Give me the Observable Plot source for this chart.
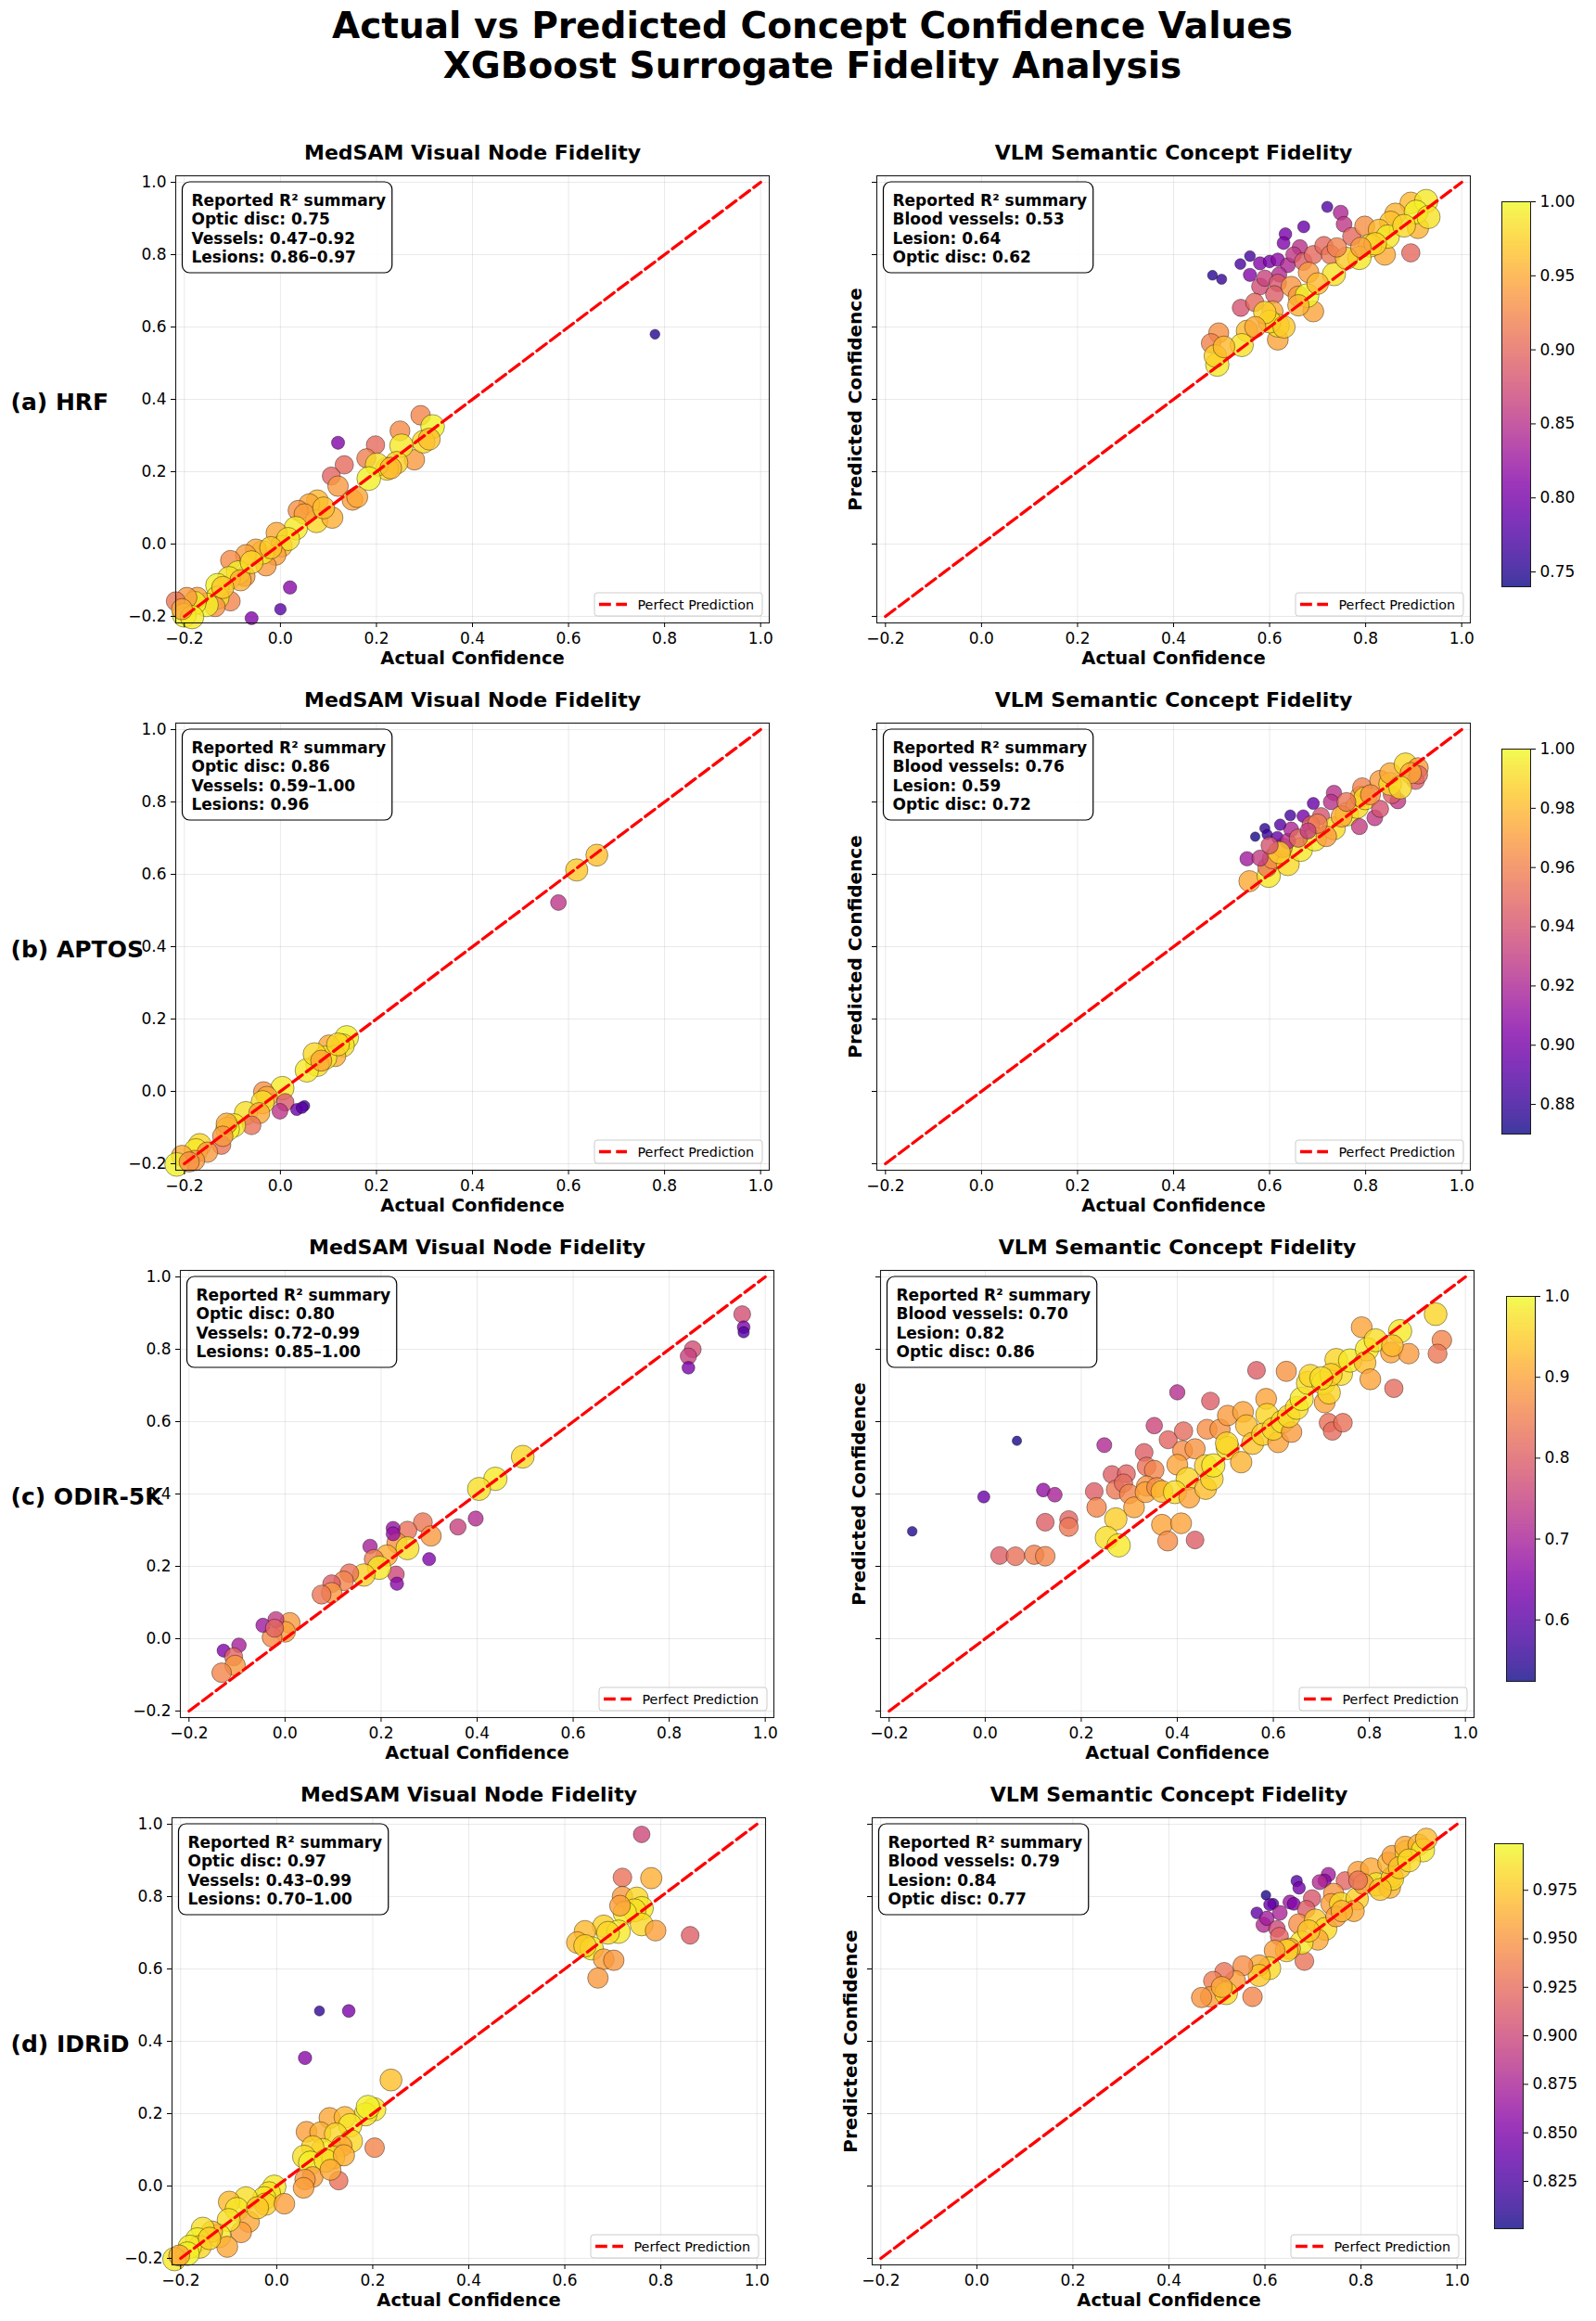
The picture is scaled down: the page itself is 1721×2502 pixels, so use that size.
<!DOCTYPE html>
<html>
<head>
<meta charset="utf-8">
<script src="https://cdn.jsdelivr.net/npm/d3@7"></script>
<script src="https://cdn.jsdelivr.net/npm/@observablehq/plot@0.6"></script>
<style>
  body { margin: 0; background: #fff; }
  #fig { position: relative; width: 1721px; height: 2502px; background: #fff; overflow: hidden; font-family: "DejaVu Sans", sans-serif; }
  #suptitle { position: absolute; left: 0; top: 6px; width: 1752px; text-align: center; font-weight: bold; font-size: 39px; line-height: 43px; color: #000; }
</style>
</head>
<body>
<div id="fig">
  <div id="suptitle">Actual vs Predicted Concept Confidence Values<br>XGBoost Surrogate Fidelity Analysis</div>
</div>
<script>
// ---------------- DATA: [actual, predicted, colour value] ----------------
const rowLabels = ["(a) HRF", "(b) APTOS", "(c) ODIR-5K", "(d) IDRiD"];
const leftTitle = "MedSAM Visual Node Fidelity";
const rightTitle = "VLM Semantic Concept Fidelity";
const axisTicks = [-0.2, 0.0, 0.2, 0.4, 0.6, 0.8, 1.0];
const diagonal = [-0.2, 1.0];
const leftColorDomain = [0.5, 1.0];

const r2Left = [
  ["Reported R\u00b2 summary", "Optic disc: 0.75", "Vessels: 0.47\u20130.92", "Lesions: 0.86\u20130.97"],
  ["Reported R\u00b2 summary", "Optic disc: 0.86", "Vessels: 0.59\u20131.00", "Lesions: 0.96"],
  ["Reported R\u00b2 summary", "Optic disc: 0.80", "Vessels: 0.72\u20130.99", "Lesions: 0.85\u20131.00"],
  ["Reported R\u00b2 summary", "Optic disc: 0.97", "Vessels: 0.43\u20130.99", "Lesions: 0.70\u20131.00"]
];
const r2Right = [
  ["Reported R\u00b2 summary", "Blood vessels: 0.53", "Lesion: 0.64", "Optic disc: 0.62"],
  ["Reported R\u00b2 summary", "Blood vessels: 0.76", "Lesion: 0.59", "Optic disc: 0.72"],
  ["Reported R\u00b2 summary", "Blood vessels: 0.70", "Lesion: 0.82", "Optic disc: 0.86"],
  ["Reported R\u00b2 summary", "Blood vessels: 0.79", "Lesion: 0.84", "Optic disc: 0.77"]
];

const cbDomains = [[0.740, 1.0], [0.870, 1.0], [0.524, 1.0], [0.8006, 0.999]];
const cbTicks = [
  [0.75, 0.80, 0.85, 0.90, 0.95, 1.00],
  [0.88, 0.90, 0.92, 0.94, 0.96, 0.98, 1.00],
  [0.6, 0.7, 0.8, 0.9, 1.0],
  [0.825, 0.850, 0.875, 0.900, 0.925, 0.950, 0.975]
];
const cbFormats = [".2f", ".2f", ".1f", ".3f"];

const hrfMedsam = [
  [0.78,0.58,0.52],[0.12,0.28,0.63],[0.02,-0.12,0.64],[0.00,-0.18,0.58],[-0.06,-0.205,0.63],
  [0.198,0.274,0.81],[0.133,0.219,0.81],[0.106,0.188,0.80],[0.179,0.237,0.84],[0.12,0.16,0.88],
  [0.292,0.356,0.85],[0.249,0.313,0.86],[0.279,0.233,0.88],[0.15,0.122,0.89],[0.16,0.13,0.90],
  [0.317,0.325,0.99],[0.298,0.283,0.96],[0.31,0.29,0.93],[0.252,0.272,0.98],[0.242,0.225,0.95],
  [0.222,0.208,0.96],[0.201,0.22,0.97],[0.184,0.181,0.99],[0.077,0.12,0.92],[0.06,0.11,0.90],
  [0.075,0.063,0.96],[0.108,0.073,0.91],[0.037,0.093,0.87],[0.05,0.083,0.89],[0.032,0.044,0.98],
  [-0.008,0.031,0.90],[0.002,-0.006,0.92],[0.016,0.014,0.97],[-0.01,-0.03,0.89],[-0.03,-0.06,0.88],
  [-0.037,-0.023,0.98],[-0.051,-0.015,0.90],[-0.072,-0.03,0.89],[-0.104,-0.045,0.86],[-0.074,-0.089,0.88],
  [-0.088,-0.079,0.99],[-0.107,-0.094,0.97],[-0.083,-0.10,0.91],[-0.131,-0.114,0.99],[-0.104,-0.158,0.85],
  [-0.131,-0.148,0.97],[-0.136,-0.173,0.87],[-0.154,-0.168,0.99],[-0.173,-0.148,0.89],[-0.179,-0.163,0.98],
  [-0.195,-0.148,0.88],[-0.218,-0.158,0.83],[-0.20,-0.197,0.99],[-0.184,-0.202,0.98],[-0.205,-0.18,0.90],
  [-0.12,-0.12,0.94],[-0.06,-0.05,0.96],[-0.02,-0.01,0.94],[0.09,0.10,0.93],[0.23,0.21,0.92]
];

const hrfVlm = [
  [0.481,0.743,0.752],[0.50,0.732,0.758],[0.539,0.774,0.77],[0.559,0.796,0.768],[0.559,0.744,0.81],
  [0.633,0.857,0.80],[0.629,0.832,0.805],[0.671,0.877,0.79],[0.72,0.932,0.775],[0.748,0.916,0.84],
  [0.755,0.884,0.855],[0.58,0.776,0.81],[0.60,0.781,0.80],[0.617,0.786,0.815],[0.638,0.771,0.84],
  [0.62,0.745,0.845],[0.663,0.82,0.85],[0.65,0.80,0.855],[0.58,0.712,0.875],[0.59,0.735,0.865],
  [0.617,0.722,0.885],[0.61,0.69,0.89],[0.54,0.653,0.88],[0.569,0.668,0.90],[0.67,0.781,0.89],
  [0.691,0.80,0.90],[0.713,0.825,0.90],[0.727,0.80,0.91],[0.771,0.85,0.90],[0.894,0.805,0.90],
  [0.798,0.879,0.93],[0.681,0.751,0.94],[0.691,0.643,0.945],[0.645,0.712,0.935],[0.66,0.685,0.94],
  [0.606,0.643,0.95],[0.553,0.589,0.96],[0.494,0.584,0.93],[0.478,0.555,0.92],[0.617,0.565,0.945],
  [0.84,0.80,0.95],[0.909,0.874,0.955],[0.894,0.943,0.96],[0.862,0.913,0.955],[0.852,0.89,0.965],
  [0.828,0.868,0.96],[0.926,0.948,0.99],[0.905,0.918,0.995],[0.931,0.904,0.985],[0.846,0.85,0.99],
  [0.809,0.825,0.985],[0.787,0.791,0.99],[0.734,0.746,0.985],[0.678,0.687,0.995],[0.617,0.604,0.985],
  [0.60,0.615,0.98],[0.542,0.55,0.985],[0.491,0.496,0.99],[0.487,0.52,0.975],[0.505,0.545,0.96],
  [0.59,0.64,0.975],[0.63,0.60,0.97],[0.70,0.72,0.96],[0.76,0.79,0.97],[0.82,0.83,0.975],
  [0.88,0.88,0.98],[0.66,0.66,0.955],[0.57,0.60,0.95],[0.74,0.82,0.92],[0.79,0.82,0.94]
];

const aptosMedsam = [
  [0.659,0.653,0.93],[0.617,0.612,0.94],[0.579,0.522,0.72],[0.138,0.149,0.99],[0.13,0.127,0.97],
  [0.101,0.127,0.90],[0.114,0.098,0.91],[0.093,0.093,0.98],[0.077,0.073,0.97],[0.055,0.058,0.98],
  [0.071,0.103,0.96],[0.004,0.009,0.98],[-0.035,-0.001,0.87],[-0.028,-0.015,0.90],[-0.037,-0.03,0.97],
  [0.01,-0.03,0.78],[-0.001,-0.055,0.72],[0.034,-0.05,0.60],[0.05,-0.04,0.55],[0.045,-0.045,0.58],
  [-0.072,-0.06,0.97],[-0.044,-0.06,0.90],[-0.06,-0.094,0.82],[-0.097,-0.094,0.98],[-0.11,-0.104,0.99],
  [-0.112,-0.089,0.90],[-0.123,-0.148,0.83],[-0.12,-0.124,0.88],[-0.168,-0.148,0.96],[-0.176,-0.163,0.98],
  [-0.152,-0.168,0.88],[-0.179,-0.191,0.88],[-0.205,-0.178,0.90],[-0.216,-0.202,0.99],[-0.19,-0.195,0.87],
  [0.12,0.13,0.96],[0.085,0.085,0.90]
];

const aptosVlm = [
  [0.558,0.581,0.975],[0.598,0.596,0.995],[0.553,0.643,0.915],[0.595,0.619,0.955],[0.606,0.643,0.965],
  [0.638,0.628,0.99],[0.665,0.668,0.995],[0.58,0.645,0.93],[0.627,0.673,0.96],[0.57,0.704,0.872],
  [0.59,0.727,0.878],[0.595,0.71,0.88],[0.616,0.702,0.895],[0.638,0.692,0.925],[0.645,0.724,0.92],
  [0.622,0.737,0.89],[0.643,0.763,0.885],[0.67,0.761,0.90],[0.691,0.796,0.895],[0.734,0.825,0.925],
  [0.728,0.80,0.925],[0.707,0.761,0.94],[0.686,0.737,0.945],[0.694,0.697,0.995],[0.734,0.727,0.99],
  [0.718,0.705,0.97],[0.761,0.766,0.995],[0.782,0.786,0.99],[0.79,0.815,0.975],[0.793,0.84,0.96],
  [0.799,0.81,0.99],[0.787,0.732,0.93],[0.819,0.756,0.928],[0.83,0.781,0.94],[0.867,0.803,0.928],
  [0.855,0.82,0.945],[0.83,0.859,0.97],[0.851,0.85,0.99],[0.851,0.879,0.975],[0.883,0.904,0.99],
  [0.909,0.894,0.97],[0.904,0.859,0.945],[0.91,0.875,0.95],[0.894,0.88,0.975],[0.872,0.84,0.99],
  [0.66,0.70,0.95],[0.70,0.74,0.96],[0.75,0.76,0.975],[0.62,0.66,0.985],[0.68,0.72,0.93],
  [0.60,0.68,0.94],[0.76,0.80,0.955],[0.81,0.82,0.965]
];

const odirMedsam = [
  [0.952,0.897,0.76],[0.955,0.861,0.62],[0.955,0.847,0.57],[0.849,0.80,0.76],[0.84,0.781,0.74],
  [0.84,0.749,0.62],[0.495,0.503,0.96],[0.438,0.442,0.98],[0.404,0.414,0.97],[0.397,0.332,0.70],
  [0.36,0.309,0.74],[0.30,0.22,0.63],[0.287,0.322,0.83],[0.304,0.284,0.88],[0.255,0.299,0.82],
  [0.225,0.305,0.66],[0.231,0.178,0.75],[0.233,0.152,0.64],[0.233,0.265,0.87],[0.255,0.25,0.97],
  [0.212,0.23,0.91],[0.177,0.255,0.68],[0.185,0.22,0.84],[0.196,0.196,0.98],[0.164,0.176,0.95],
  [0.134,0.181,0.82],[0.122,0.16,0.85],[0.097,0.152,0.79],[0.097,0.127,0.88],[0.076,0.122,0.83],
  [0.01,0.044,0.88],[0.0,0.019,0.89],[-0.027,0.004,0.86],[-0.019,0.053,0.73],[-0.046,0.037,0.67],
  [-0.022,0.029,0.80],[-0.096,-0.018,0.68],[-0.128,-0.033,0.63],[-0.107,-0.05,0.80],[-0.104,-0.074,0.88],
  [-0.132,-0.094,0.85],[0.225,0.29,0.66]
];

const odirVlm = [
  [-0.152,0.297,0.54],[0.066,0.547,0.53],[-0.003,0.392,0.62],[0.121,0.411,0.67],[0.145,0.398,0.70],
  [0.248,0.535,0.71],[0.40,0.681,0.72],[0.352,0.589,0.76],[0.03,0.23,0.80],[0.063,0.228,0.83],
  [0.102,0.232,0.85],[0.125,0.228,0.86],[0.125,0.322,0.80],[0.174,0.329,0.81],[0.174,0.309,0.84],
  [0.227,0.407,0.80],[0.232,0.363,0.86],[0.264,0.454,0.80],[0.294,0.456,0.81],[0.272,0.412,0.84],
  [0.288,0.43,0.82],[0.30,0.40,0.86],[0.31,0.363,0.90],[0.272,0.331,0.95],[0.253,0.279,0.97],
  [0.278,0.258,0.98],[0.331,0.515,0.80],[0.336,0.476,0.83],[0.352,0.466,0.86],[0.336,0.422,0.88],
  [0.334,0.405,0.90],[0.357,0.418,0.87],[0.368,0.407,0.93],[0.368,0.315,0.90],[0.38,0.27,0.87],
  [0.408,0.319,0.90],[0.437,0.273,0.80],[0.381,0.55,0.81],[0.413,0.574,0.82],[0.411,0.52,0.87],
  [0.437,0.525,0.88],[0.40,0.481,0.90],[0.421,0.442,0.96],[0.395,0.405,0.97],[0.425,0.39,0.90],
  [0.459,0.478,0.95],[0.459,0.415,0.93],[0.472,0.442,0.96],[0.475,0.479,0.98],[0.469,0.657,0.80],
  [0.462,0.579,0.87],[0.489,0.579,0.88],[0.505,0.617,0.89],[0.505,0.527,0.97],[0.503,0.54,0.96],
  [0.533,0.488,0.92],[0.537,0.627,0.90],[0.544,0.589,0.93],[0.557,0.54,0.94],[0.565,0.742,0.80],
  [0.585,0.663,0.90],[0.587,0.619,0.96],[0.578,0.565,0.95],[0.61,0.543,0.90],[0.60,0.58,0.96],
  [0.619,0.60,0.97],[0.627,0.739,0.88],[0.638,0.571,0.89],[0.632,0.615,0.96],[0.649,0.638,0.97],
  [0.659,0.663,0.98],[0.672,0.707,0.97],[0.677,0.727,0.96],[0.707,0.653,0.90],[0.704,0.707,0.98],
  [0.716,0.68,0.96],[0.741,0.732,0.97],[0.731,0.771,0.96],[0.715,0.597,0.83],[0.723,0.574,0.82],
  [0.745,0.597,0.83],[0.76,0.769,0.98],[0.795,0.80,0.98],[0.791,0.763,0.93],[0.802,0.717,0.90],
  [0.784,0.861,0.90],[0.813,0.825,0.97],[0.845,0.791,0.90],[0.882,0.788,0.89],[0.864,0.85,0.98],
  [0.851,0.692,0.82],[0.938,0.897,0.96],[0.951,0.825,0.86],[0.942,0.788,0.84],[0.848,0.81,0.93],
  [0.72,0.73,0.95],[0.70,0.72,0.97]
];

const idridMedsam = [
  [0.76,0.972,0.75],[0.72,0.853,0.82],[0.78,0.851,0.91],[0.72,0.80,0.88],[0.75,0.795,0.96],
  [0.76,0.768,0.98],[0.745,0.762,0.97],[0.725,0.755,0.98],[0.715,0.775,0.89],[0.76,0.723,0.96],
  [0.789,0.706,0.89],[0.861,0.693,0.79],[0.681,0.718,0.95],[0.642,0.704,0.92],[0.712,0.703,0.98],
  [0.69,0.70,0.96],[0.626,0.673,0.92],[0.656,0.657,0.98],[0.642,0.664,0.95],[0.681,0.627,0.89],
  [0.702,0.624,0.88],[0.669,0.575,0.88],[0.089,0.484,0.53],[0.15,0.484,0.62],[0.059,0.354,0.64],
  [0.238,0.293,0.93],[0.203,0.212,0.98],[0.185,0.198,0.97],[0.19,0.218,0.99],[0.204,0.106,0.85],
  [0.11,0.188,0.90],[0.142,0.19,0.92],[0.153,0.168,0.98],[0.062,0.15,0.89],[0.091,0.148,0.91],
  [0.123,0.143,0.96],[0.155,0.124,0.96],[0.135,0.11,0.90],[0.096,0.099,0.98],[0.075,0.108,0.95],
  [0.057,0.081,0.97],[0.07,0.064,0.99],[0.118,0.079,0.96],[0.102,0.07,0.97],[0.14,0.085,0.91],
  [0.075,0.025,0.89],[0.059,0.018,0.88],[0.056,-0.005,0.89],[0.129,0.015,0.82],[0.112,0.045,0.90],
  [-0.005,-0.002,0.98],[-0.016,-0.02,0.97],[-0.026,-0.034,0.98],[-0.023,-0.05,0.95],[0.016,-0.049,0.89],
  [-0.064,-0.034,0.97],[-0.099,-0.044,0.92],[-0.083,-0.064,0.98],[-0.058,-0.099,0.90],[-0.074,-0.128,0.89],
  [-0.10,-0.094,0.97],[-0.12,-0.138,0.98],[-0.103,-0.168,0.90],[-0.135,-0.126,0.91],[-0.154,-0.118,0.97],
  [-0.165,-0.148,0.99],[-0.16,-0.168,0.96],[-0.181,-0.168,0.98],[-0.186,-0.187,0.99],[-0.213,-0.202,0.98],
  [-0.203,-0.192,0.90],[-0.14,-0.145,0.95],[-0.04,-0.06,0.94]
];

const idridVlm = [
  [0.602,0.804,0.806],[0.666,0.843,0.83],[0.671,0.824,0.845],[0.617,0.78,0.825],[0.61,0.778,0.84],
  [0.583,0.755,0.835],[0.597,0.722,0.88],[0.604,0.74,0.87],[0.631,0.755,0.875],[0.652,0.785,0.865],
  [0.66,0.78,0.85],[0.732,0.861,0.87],[0.724,0.844,0.855],[0.714,0.84,0.88],[0.767,0.844,0.92],
  [0.698,0.795,0.91],[0.686,0.765,0.915],[0.625,0.711,0.90],[0.63,0.69,0.92],[0.67,0.725,0.945],
  [0.682,0.622,0.93],[0.743,0.809,0.95],[0.738,0.78,0.955],[0.758,0.78,0.985],[0.792,0.794,0.98],
  [0.785,0.76,0.96],[0.794,0.869,0.955],[0.821,0.878,0.96],[0.832,0.834,0.99],[0.86,0.825,0.965],
  [0.865,0.855,0.96],[0.865,0.849,0.985],[0.857,0.893,0.965],[0.865,0.913,0.955],[0.895,0.923,0.99],
  [0.892,0.938,0.96],[0.92,0.943,0.965],[0.929,0.928,0.99],[0.936,0.959,0.97],[0.705,0.735,0.975],
  [0.726,0.711,0.985],[0.71,0.681,0.96],[0.676,0.673,0.99],[0.652,0.656,0.96],[0.645,0.651,0.98],
  [0.62,0.651,0.955],[0.609,0.602,0.985],[0.588,0.61,0.96],[0.588,0.582,0.975],[0.554,0.609,0.945],
  [0.574,0.523,0.94],[0.538,0.567,0.955],[0.515,0.592,0.93],[0.492,0.567,0.935],[0.487,0.523,0.955],
  [0.468,0.521,0.95],[0.519,0.533,0.985],[0.51,0.55,0.96],[0.691,0.705,0.975],[0.748,0.745,0.955],
  [0.805,0.835,0.955],[0.794,0.845,0.93],[0.76,0.76,0.965],[0.84,0.82,0.975],[0.88,0.88,0.975],
  [0.90,0.90,0.985]
];

const leftData = [hrfMedsam, aptosMedsam, odirMedsam, idridMedsam];
const rightData = [hrfVlm, aptosVlm, odirVlm, idridVlm];

// ---------------- LAYOUT ----------------
const FRAME_W = 640, FRAME_H = 482, ROW_PITCH = 590, FIRST_TOP = 189;
const leftFrameX = [189, 189, 194, 185];
const rightFrameX = [945, 945, 949, 940];
const cbX = [1619, 1619, 1624, 1611];
const axisDomain = [-0.218, 1.018];
const DASH = "12.8,5.5", LINE_W = 3.3;
const fig = document.getElementById("fig");
const SVGNS = "http://www.w3.org/2000/svg";

function place(node, left, top) {
  node.style.position = "absolute";
  node.style.left = left + "px";
  node.style.top = top + "px";
  node.style.maxWidth = "none";
  fig.appendChild(node);
}

function topChild(svg, el) {
  let n = el;
  while (n.parentNode && n.parentNode !== svg) n = n.parentNode;
  return n;
}

function findText(svg, prefix) {
  const all = svg.querySelectorAll("text");
  for (const t of all) {
    if ((t.textContent || "").trim().startsWith(prefix)) return t;
  }
  return null;
}

function mk(tag, attrs) {
  const el = document.createElementNS(SVGNS, tag);
  for (const k in attrs) el.setAttribute(k, attrs[k]);
  return el;
}

function panel({data, title, r2, frameLeft, frameTop, side, rowLabel, cDomain}) {
  const mL = side === "left" ? frameLeft : 75;
  const mT = 60, mR = 12, mB = 60;
  const marks = [
    Plot.gridX({ticks: axisTicks, stroke: "#b0b0b0", strokeOpacity: 0.35, strokeWidth: 0.8}),
    Plot.gridY({ticks: axisTicks, stroke: "#b0b0b0", strokeOpacity: 0.35, strokeWidth: 0.8}),
    Plot.dot(data, {x: d => d[0], y: d => d[1], fill: d => d[2], r: d => d[2],
      fillOpacity: 0.8, stroke: "#000", strokeOpacity: 0.55, strokeWidth: 0.7, sort: null}),
    Plot.line(diagonal, {x: d => d, y: d => d, stroke: "#ff0000", strokeWidth: LINE_W, strokeDasharray: DASH}),
    Plot.frame({stroke: "#1a1a1a", strokeWidth: 1.1}),
    Plot.axisX({ticks: axisTicks, tickSize: 5, tickPadding: 5, tickFormat: d3.format(".1f"), fontSize: 17, label: null}),
    Plot.axisY({ticks: axisTicks, tickSize: 5, tickPadding: 5,
      tickFormat: side === "left" ? d3.format(".1f") : () => "", fontSize: 17, label: null}),
    Plot.text([title], {text: d => d, frameAnchor: "top", dy: -25, fontSize: 22, fontWeight: "bold", lineAnchor: "middle"}),
    Plot.text(["Actual Confidence"], {text: d => d, frameAnchor: "bottom", dy: 38, fontSize: 19.5, fontWeight: "bold", lineAnchor: "middle"}),
    Plot.text([r2.join("\n")], {text: d => d, frameAnchor: "top-left", dx: 17, dy: 18, lineAnchor: "top",
      textAnchor: "start", lineHeight: 1.2, fontSize: 17, fontWeight: "bold"}),
    Plot.text(["Perfect Prediction"], {text: d => d, frameAnchor: "bottom-right", dx: -142, dy: -19,
      textAnchor: "start", lineAnchor: "middle", fontSize: 14.3})
  ];
  if (side === "left") {
    marks.push(Plot.text([rowLabel], {text: d => d, frameAnchor: "left", dx: -(frameLeft - 11), dy: 3,
      textAnchor: "start", fontSize: 25, fontWeight: "bold"}));
  } else {
    marks.push(Plot.text(["Predicted Confidence"], {text: d => d, frameAnchor: "left", dx: -23, rotate: -90,
      textAnchor: "middle", lineAnchor: "middle", fontSize: 20, fontWeight: "bold"}));
  }
  const svg = Plot.plot({
    width: mL + FRAME_W + mR, height: mT + FRAME_H + mB,
    marginLeft: mL, marginRight: mR, marginTop: mT, marginBottom: mB,
    x: {domain: axisDomain}, y: {domain: axisDomain},
    color: {type: "linear", scheme: "plasma", domain: cDomain},
    r: {type: "linear", domain: cDomain, range: [5, 13]},
    style: {fontFamily: "DejaVu Sans", fontSize: "17px", background: "transparent", overflow: "visible", color: "#000"},
    marks
  });
  place(svg, frameLeft - mL, frameTop - mT);

  const fl = mL, ft = mT, fr = mL + FRAME_W, fb = mT + FRAME_H;

  // R² box behind the summary text (matplotlib round bbox)
  const r2El = findText(svg, "Reported");
  let boxW = 230;
  if (r2El) {
    const b = r2El.getBoundingClientRect();
    if (b.width > 50) boxW = b.width + 16.6;
    const rect = mk("rect", {x: fl + 7.5, y: ft + 7, width: boxW, height: 98, rx: 8, ry: 8,
      fill: "#fff", "fill-opacity": 0.9, stroke: "#000", "stroke-width": 1.2});
    svg.insertBefore(rect, topChild(svg, r2El));
  }
  // legend frame + dashed sample
  const lgEl = findText(svg, "Perfect Prediction");
  if (lgEl) {
    const anchor = topChild(svg, lgEl);
    svg.insertBefore(mk("rect", {x: fr - 188, y: fb - 32, width: 181, height: 25, rx: 3, ry: 3,
      fill: "#fff", "fill-opacity": 0.8, stroke: "#cccccc", "stroke-width": 1}), anchor);
    svg.insertBefore(mk("line", {x1: fr - 183, x2: fr - 153, y1: fb - 19.5, y2: fb - 19.5,
      stroke: "#ff0000", "stroke-width": LINE_W, "stroke-dasharray": DASH}), anchor);
  }
}

function colorbar({domain, ticks, fmt, left, top}) {
  const n = 240;
  const step = (domain[1] - domain[0]) / n;
  const levels = d3.range(n).map(i => domain[0] + i * step);
  const w = 31, h = 415, mT = 12, mB = 12, mL = 1, mR = 80;
  const svg = Plot.plot({
    width: mL + w + mR, height: mT + h + mB,
    marginLeft: mL, marginRight: mR, marginTop: mT, marginBottom: mB,
    x: {domain: [0, 1], axis: null},
    y: {domain},
    color: {type: "linear", scheme: "plasma", domain},
    style: {fontFamily: "DejaVu Sans", fontSize: "17px", background: "transparent", overflow: "visible", color: "#000"},
    marks: [
      Plot.rect(levels, {x1: 0, x2: 1, y1: d => d, y2: d => d + step, fill: d => d + step / 2,
        fillOpacity: 0.8, shapeRendering: "crispEdges"}),
      Plot.frame({stroke: "#1a1a1a", strokeWidth: 1}),
      Plot.axisY({anchor: "right", ticks, tickFormat: d3.format(fmt), tickSize: 5, tickPadding: 5, fontSize: 17, label: null})
    ]
  });
  place(svg, left - mL, top - mT);
}

for (let r = 0; r < 4; r++) {
  const frameTop = FIRST_TOP + r * ROW_PITCH;
  panel({data: leftData[r], title: leftTitle, r2: r2Left[r], frameLeft: leftFrameX[r], frameTop,
    side: "left", rowLabel: rowLabels[r], cDomain: leftColorDomain});
  panel({data: rightData[r], title: rightTitle, r2: r2Right[r], frameLeft: rightFrameX[r], frameTop,
    side: "right", rowLabel: rowLabels[r], cDomain: cbDomains[r]});
  colorbar({domain: cbDomains[r], ticks: cbTicks[r], fmt: cbFormats[r], left: cbX[r], top: frameTop + 28});
}
</script>
</body>
</html>
